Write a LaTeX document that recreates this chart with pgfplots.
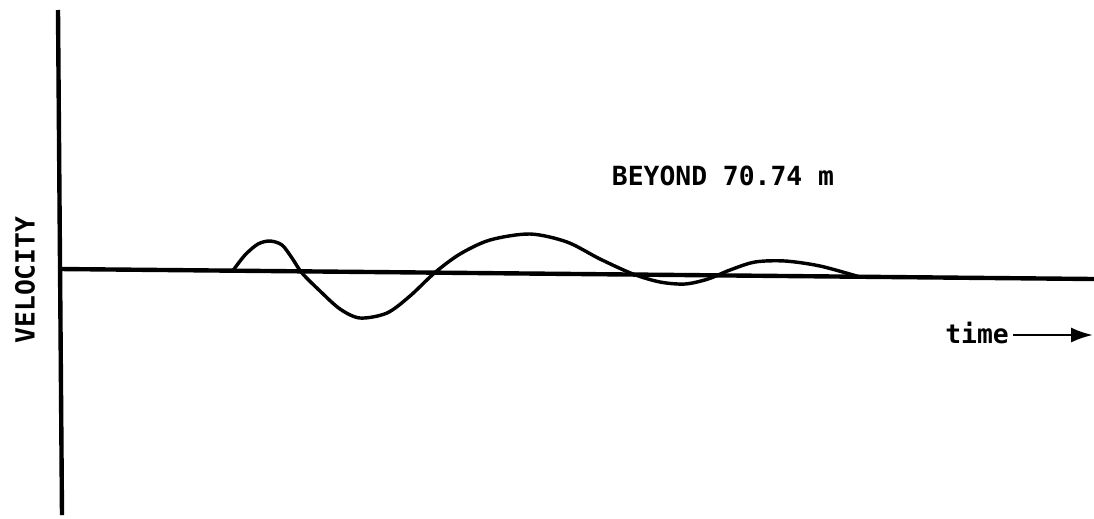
\documentclass[border=0pt]{standalone}
\usepackage{pgfplots}
\pgfplotsset{compat=1.18}
\usepackage{fontspec}
\setmonofont{DejaVu Sans Mono}
\usetikzlibrary{arrows.meta}

\begin{document}
\begin{tikzpicture}
\begin{axis}[
  hide axis,
  scale only axis,
  width=14cm, height=6.629cm,
  xmin=0, xmax=1094, ymin=0, ymax=518,
  y dir=reverse,
  clip=false,
]
% velocity axis (vertical)
\addplot[black, line width=1.6pt] coordinates {(58,10) (62,515)};
% zero line (time axis)
\addplot[black, line width=1.6pt] coordinates {(60,269) (1094,279)};
% velocity record
\addplot[black, line width=1.25pt, smooth] coordinates {
  (233,270.5) (245,255) (258,244) (270,241) (282,245) (292,258)
  (302,273) (320,291) (340,309) (360,318) (387,313) (410,296)
  (435,272.5) (460,254) (490,240) (530,234) (567,242) (600,259)
  (633,274) (660,282) (685,284) (708,279) (730,270) (755,262)
  (785,261) (820,266) (860,277)
};
\node[font=\ttfamily\bfseries\fontsize{9.6}{11}\selectfont, rotate=90] at (axis cs:25,280) {VELOCITY};
\node[font=\ttfamily\bfseries\fontsize{9.6}{11}\selectfont] at (axis cs:723,176) {BEYOND 70.74 m};
\node[font=\ttfamily\bfseries\fontsize{9.6}{11}\selectfont] at (axis cs:977,333) {time};
\draw[black, line width=1pt, -{Latex[length=8pt,width=5.5pt]}] (axis cs:1013,335) -- (axis cs:1093,335);
\end{axis}
\pgfresetboundingbox
\path (current axis.south west) rectangle (current axis.north east);
\end{tikzpicture}
\end{document}
